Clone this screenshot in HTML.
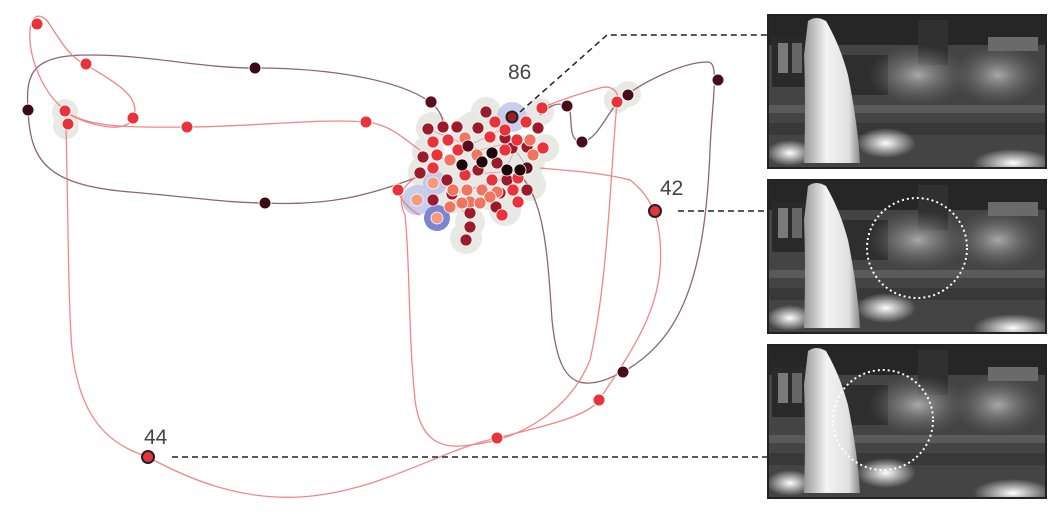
<!DOCTYPE html>
<html><head><meta charset="utf-8"><style>
html,body{margin:0;padding:0;background:#fff;width:1061px;height:514px;overflow:hidden}
svg{display:block}
text{font-family:"Liberation Sans",sans-serif;font-weight:300}
</style></head><body>
<svg width="1061" height="514" viewBox="0 0 1061 514" xmlns="http://www.w3.org/2000/svg">
<defs>
<radialGradient id="blob" cx="50%" cy="50%" r="50%"><stop offset="0" stop-color="#fff"/><stop offset="1" stop-color="#fff" stop-opacity="0"/></radialGradient>
<radialGradient id="tree" cx="50%" cy="50%" r="50%"><stop offset="0" stop-color="#a8a8a8"/><stop offset="1" stop-color="#6a6a6a" stop-opacity="0"/></radialGradient>
<linearGradient id="ghost" x1="0" x2="1"><stop offset="0" stop-color="#999"/><stop offset=".4" stop-color="#f4f4f4"/><stop offset=".8" stop-color="#e0e0e0"/><stop offset="1" stop-color="#888"/></linearGradient>
<g id="photo">
<rect x="0" y="0" width="278" height="153" fill="#444"/>
<rect x="0" y="0" width="278" height="30" fill="#262626"/>
<rect x="4" y="22" width="40" height="50" fill="#2a2a2a"/>
<rect x="10" y="28" width="10" height="30" fill="#7a7a7a"/>
<rect x="24" y="28" width="10" height="30" fill="#666"/>
<rect x="220" y="22" width="50" height="14" fill="#6a6a6a"/>
<rect x="150" y="5" width="30" height="45" fill="#303030"/>
<rect x="60" y="40" width="60" height="40" fill="#2e2e2e"/>
<ellipse cx="150" cy="60" rx="50" ry="30" fill="url(#tree)"/>
<ellipse cx="230" cy="60" rx="45" ry="30" fill="url(#tree)"/>
<rect x="0" y="90" width="278" height="8" fill="#5a5a5a"/>
<rect x="0" y="108" width="278" height="12" fill="#383838"/>
<ellipse cx="22" cy="138" rx="24" ry="13" fill="url(#blob)"/>
<ellipse cx="118" cy="128" rx="30" ry="15" fill="url(#blob)"/>
<ellipse cx="245" cy="148" rx="40" ry="14" fill="url(#blob)"/>
<path d="M40 6 Q48 0 58 6 Q72 30 80 60 Q90 110 92 148 L36 148 Q38 90 36 40 Z" fill="url(#ghost)"/>
<rect x="0" y="0" width="278" height="153" fill="none" stroke="#222" stroke-width="2"/>
</g>
</defs>

<!-- halos -->
<g fill="#e8e8e4">
<circle cx="65" cy="112" r="13"/><circle cx="66" cy="126" r="13"/>
<circle cx="617" cy="100" r="13"/><circle cx="628" cy="94" r="13"/>
<circle cx="432" cy="128" r="16"/><circle cx="486" cy="112" r="15"/><circle cx="540" cy="112" r="14"/>
<circle cx="428" cy="152" r="16"/><circle cx="424" cy="172" r="16"/><circle cx="545" cy="148" r="14"/>
<circle cx="530" cy="185" r="16"/><circle cx="466" cy="238" r="16"/><circle cx="470" cy="222" r="15"/>
<circle cx="505" cy="210" r="16"/><circle cx="480" cy="140" r="30"/><circle cx="490" cy="175" r="35"/>
<circle cx="455" cy="185" r="28"/><circle cx="520" cy="160" r="25"/>
</g>
<g fill="#b8bde6" opacity=".75">
<circle cx="512" cy="117" r="15"/><circle cx="417" cy="200" r="15"/><circle cx="435" cy="183" r="12"/>
</g>
<circle cx="437" cy="218" r="13" fill="#7b86d3"/>

<!-- dark path -->
<g fill="none" stroke="#7a4b5a" stroke-width="1.3" opacity=".85">
<path d="M28 109 C25 70 35 55 90 55 C150 55 200 68 255 68 C330 68 400 80 430 102 C440 110 445 120 442 128"/>
<path d="M28 109 C30 160 45 185 130 192 C200 198 230 203 265 203 C330 206 370 195 415 178"/>
<path d="M520 175 C545 200 548 260 552 320 C556 360 565 385 590 383 C605 382 615 375 623 372 C680 340 705 280 710 150 C712 100 720 62 708 62 C680 62 640 85 628 94 C610 102 600 140 582 142 C565 142 575 110 567 106 C555 100 545 110 540 115"/>
</g>
<!-- red path -->
<g fill="none" stroke="#ef7a7a" stroke-width="1.3" opacity=".9">
<path d="M65 110 C45 95 28 60 30 30 C32 12 42 14 48 22 C60 40 70 58 85 64 C110 80 136 92 135 112 C135 125 120 128 110 127 C90 125 75 118 65 112"/>
<path d="M65 112 C90 125 110 128 187 127 C250 127 320 118 366 122 C390 124 405 140 420 150"/>
<path d="M66 126 C68 200 68 300 72 350 C80 420 110 445 148 457 C190 480 240 500 300 497 C380 492 440 450 497 438 C550 425 590 415 599 400 C640 340 665 300 660 240 C658 215 650 195 630 180 C600 172 560 170 540 168"/>
<path d="M420 175 C400 185 398 200 405 215 C410 260 408 330 415 400 C420 440 440 450 470 445 C520 440 570 410 590 360 C608 280 610 180 617 102 C620 90 610 85 600 88 C575 95 555 102 542 108"/>
<path d="M398 190 C400 200 410 210 420 215"/>
</g>
<g fill="none" stroke="#c05060" stroke-width="0.8" opacity=".5">
<path d="M430 130 L480 150 L520 140 L500 180 L450 195 L470 220"/><path d="M440 160 L500 130 L530 170 L460 175"/>
</g>

<!-- outer dots -->
<g stroke="#fff" stroke-width="1">
<circle cx="37" cy="24" r="6" fill="#e8333a"/><circle cx="86" cy="64" r="6" fill="#e8333a"/>
<circle cx="133" cy="118" r="6" fill="#e8333a"/><circle cx="187" cy="127" r="6" fill="#e8333a"/>
<circle cx="366" cy="122" r="6" fill="#e8333a"/><circle cx="65" cy="111" r="6" fill="#e8333a"/>
<circle cx="68" cy="124" r="6" fill="#e8333a"/><circle cx="398" cy="190" r="6" fill="#e8333a"/>
<circle cx="617" cy="102" r="6" fill="#e8333a"/><circle cx="599" cy="400" r="6" fill="#e8333a"/>
<circle cx="497" cy="438" r="6" fill="#e8333a"/>
<circle cx="28" cy="110" r="6" fill="#3a0a14"/><circle cx="255" cy="68" r="6" fill="#3a0a14"/>
<circle cx="431" cy="102" r="6" fill="#3a0a14"/><circle cx="265" cy="203" r="6" fill="#3a0a14"/>
<circle cx="567" cy="106" r="6" fill="#4a0c1a"/><circle cx="582" cy="142" r="6" fill="#4a0c1a"/>
<circle cx="628" cy="95" r="6" fill="#4a0c1a"/><circle cx="718" cy="80" r="6" fill="#4a0c1a"/>
<circle cx="623" cy="372" r="6" fill="#4a0c1a"/>
</g>
<!-- cluster dots -->
<g stroke="#fff" stroke-width="0.8">
<g fill="#9b1b2a">
<circle cx="486" cy="112" r="6"/><circle cx="428" cy="129" r="6"/><circle cx="443" cy="127" r="6"/><circle cx="457" cy="127" r="6"/><circle cx="478" cy="128" r="6"/><circle cx="538" cy="128" r="6"/><circle cx="505" cy="138" r="6"/><circle cx="423" cy="157" r="6"/><circle cx="512" cy="148" r="6"/><circle cx="527" cy="147" r="6"/><circle cx="497" cy="163" r="6"/><circle cx="420" cy="173" r="6"/><circle cx="447" cy="180" r="6"/><circle cx="478" cy="170" r="6"/><circle cx="507" cy="180" r="6"/><circle cx="433" cy="200" r="6"/><circle cx="452" cy="194" r="6"/><circle cx="500" cy="193" r="6"/><circle cx="496" cy="207" r="6"/><circle cx="470" cy="213" r="6"/><circle cx="470" cy="227" r="6"/><circle cx="466" cy="240" r="6"/><circle cx="527" cy="190" r="6"/>
</g>
<g fill="#e8333a">
<circle cx="542" cy="108" r="6"/><circle cx="495" cy="122" r="6"/><circle cx="505" cy="130" r="6"/><circle cx="526" cy="122" r="6"/><circle cx="433" cy="142" r="6"/><circle cx="448" cy="140" r="6"/><circle cx="490" cy="137" r="6"/><circle cx="517" cy="140" r="6"/><circle cx="543" cy="148" r="6"/><circle cx="437" cy="155" r="6"/><circle cx="458" cy="150" r="6"/><circle cx="505" cy="150" r="6"/><circle cx="433" cy="168" r="6"/><circle cx="465" cy="175" r="6"/><circle cx="518" cy="178" r="6"/><circle cx="513" cy="190" r="6"/><circle cx="518" cy="202" r="6"/><circle cx="502" cy="215" r="6"/><circle cx="492" cy="180" r="6"/>
</g>
<g fill="#f07560">
<circle cx="465" cy="138" r="6"/><circle cx="530" cy="140" r="6"/><circle cx="450" cy="160" r="6"/><circle cx="477" cy="155" r="6"/><circle cx="533" cy="155" r="6"/><circle cx="453" cy="190" r="6"/><circle cx="467" cy="190" r="6"/><circle cx="482" cy="190" r="6"/><circle cx="497" cy="192" r="6"/><circle cx="470" cy="202" r="6"/><circle cx="490" cy="197" r="6"/><circle cx="450" cy="207" r="6"/><circle cx="462" cy="203" r="6"/><circle cx="480" cy="203" r="6"/>
</g>
<g fill="#f59a80">
<circle cx="433" cy="183" r="6"/><circle cx="417" cy="200" r="6"/><circle cx="437" cy="218" r="6"/>
</g>
<g fill="#5a0e1e">
<circle cx="468" cy="146" r="6"/><circle cx="431" cy="102" r="6"/><circle cx="527" cy="168" r="6"/>
</g>
<g fill="#1e0609">
<circle cx="492" cy="153" r="6"/><circle cx="462" cy="165" r="6"/><circle cx="482" cy="162" r="6"/><circle cx="507" cy="170" r="6"/><circle cx="520" cy="170" r="6"/>
</g>
</g>
<circle cx="512" cy="117" r="5.5" fill="#a01c2b" stroke="#222" stroke-width="2"/>
<circle cx="655" cy="211" r="6" fill="#e8333a" stroke="#222" stroke-width="2"/>
<circle cx="148" cy="457" r="6" fill="#e8333a" stroke="#222" stroke-width="2"/>

<g fill="none" stroke="#222" stroke-width="1.5" stroke-dasharray="6,4">
<path d="M520 112 L607 35 L768 35"/>
<path d="M678 211 L768 211"/>
<path d="M172 457 L768 457"/>
</g>

<text x="508" y="79" font-size="21" fill="#444">86</text>
<text x="660" y="195" font-size="21" fill="#444">42</text>
<text x="144" y="444" font-size="21" fill="#444">44</text>

<use href="#photo" x="768" y="15"/>
<use href="#photo" x="768" y="180"/>
<use href="#photo" x="768" y="345"/>
<circle cx="917" cy="248" r="50" fill="none" stroke="#fff" stroke-width="2" stroke-dasharray="2,3"/>
<circle cx="883" cy="420" r="50" fill="none" stroke="#fff" stroke-width="2" stroke-dasharray="2,3"/>
</svg>
</body></html>
